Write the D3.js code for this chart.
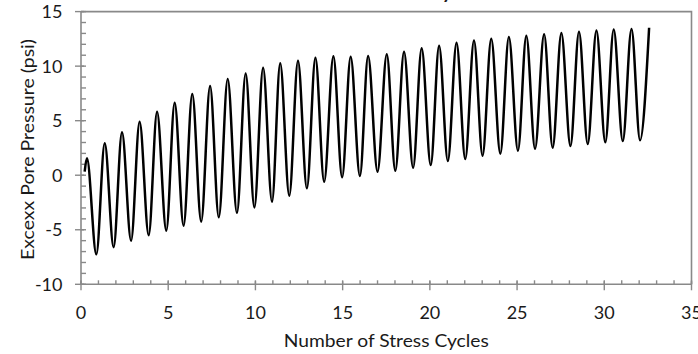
<!DOCTYPE html>
<html>
<head>
<meta charset="utf-8">
<script src="https://cdn.jsdelivr.net/npm/d3@7"></script>
<style>
  html, body { margin: 0; padding: 0; background: #fff; }
  svg { display: block; }
  text { font-family: Lato, "Open Sans", sans-serif; fill: #1a1a1a; }
</style>
</head>
<body>
<svg id="chart" width="698" height="354"></svg>
<script>
// Data (successive peaks and troughs of the record)
const cycles = [0.21, 0.34, 0.88, 1.36, 1.87, 2.35, 2.87, 3.36, 3.88, 4.36, 4.89, 5.37, 5.88, 6.38, 6.89, 7.40, 7.90, 8.41, 8.94, 9.44, 9.94, 10.44, 10.95, 11.42, 11.94, 12.44, 12.95, 13.44, 13.94, 14.47, 14.97, 15.46, 15.99, 16.46, 17.00, 17.53, 18.02, 18.52, 19.04, 19.53, 20.05, 20.53, 21.03, 21.53, 22.03, 22.53, 23.02, 23.52, 24.04, 24.53, 25.05, 25.53, 26.03, 26.55, 27.04, 27.54, 28.06, 28.55, 29.05, 29.55, 30.06, 30.54, 31.06, 31.56, 32.05, 32.57];
const porePressure = [0.32, 1.55, -7.25, 2.92, -6.6, 3.93, -6.0, 4.9, -5.5, 5.82, -5.08, 6.65, -4.63, 7.44, -4.26, 8.17, -3.86, 8.82, -3.45, 9.33, -2.95, 9.86, -2.43, 10.26, -1.88, 10.5, -1.2, 10.77, -0.6, 10.9, -0.19, 10.86, -0.07, 10.93, 0.32, 11.08, 0.41, 11.32, 0.69, 11.63, 0.93, 11.87, 1.3, 12.15, 1.48, 12.36, 1.79, 12.51, 1.97, 12.67, 2.25, 12.79, 2.43, 12.92, 2.52, 13.03, 2.68, 13.16, 2.86, 13.26, 3.02, 13.37, 3.13, 13.4, 3.2, 13.52];
const xTicks = [0, 5, 10, 15, 20, 25, 30, 35];
const yTicks = [-10, -5, 0, 5, 10, 15];
const xMinorTicks = d3.range(0, 36, 1);
const yMinorTicks = d3.range(-10, 16, 1);
const xTitle = "Number of Stress Cycles";
const yTitle = "Excexx Pore Pressure (psi)";
const chartTitle = "Pore Pressure History";

const svg = d3.select("#chart");
const L = 81, R = 691.5, T = 11.6, B = 284.3;
const x = d3.scaleLinear().domain([0, 35]).range([L, R]);
const y = d3.scaleLinear().domain([-10, 15]).range([B, T]);
const axisColor = "#898989";

// title (mostly above the visible area, as in the reference)
svg.append("text").attr("x", 452).attr("y", -0.8).attr("text-anchor", "end")
  .style("font-size", "19px").style("font-weight", "bold").text(chartTitle);

// plot-area border (top/right)
svg.append("path")
  .attr("d", `M${L},${T}H${R}V${B}`)
  .attr("fill", "none").attr("stroke", axisColor).attr("stroke-width", 1.6);

// x axis
const gx = svg.append("g").attr("transform", `translate(0,${B})`);
gx.selectAll("line.minor").data(xMinorTicks).join("line")
  .attr("x1", d => x(d)).attr("x2", d => x(d)).attr("y1", 0).attr("y2", -4)
  .attr("stroke", axisColor).attr("stroke-width", 1.4);
gx.selectAll("line.major").data(xTicks).join("line")
  .attr("x1", d => x(d)).attr("x2", d => x(d)).attr("y1", -3).attr("y2", 6)
  .attr("stroke", axisColor).attr("stroke-width", 1.4);
gx.append("line").attr("x1", L - 0.7).attr("x2", R).attr("y1", 0).attr("y2", 0)
  .attr("stroke", axisColor).attr("stroke-width", 1.6);
gx.selectAll("text").data(xTicks).join("text")
  .attr("x", d => x(d)).attr("y", 34.5).attr("text-anchor", "middle")
  .style("font-size", "18px").text(d => d);

// y axis
const gy = svg.append("g").attr("transform", `translate(${L},0)`);
gy.selectAll("line.minor").data(yMinorTicks).join("line")
  .attr("x1", 0).attr("x2", 5).attr("y1", d => y(d)).attr("y2", d => y(d))
  .attr("stroke", axisColor).attr("stroke-width", 1.4);
gy.selectAll("line.major").data(yTicks).join("line")
  .attr("x1", -6).attr("x2", 3).attr("y1", d => y(d)).attr("y2", d => y(d))
  .attr("stroke", axisColor).attr("stroke-width", 1.4);
gy.append("line").attr("x1", 0).attr("x2", 0).attr("y1", T).attr("y2", B + 0.7)
  .attr("stroke", axisColor).attr("stroke-width", 1.6);
gy.selectAll("text").data(yTicks).join("text")
  .attr("x", -18.5).attr("y", d => y(d) + 6.5).attr("text-anchor", "end")
  .style("font-size", "18px").text(d => d);

// axis titles
svg.append("text").attr("x", (L + R) / 2).attr("y", 346.5).attr("text-anchor", "middle")
  .style("font-size", "18px").attr("textLength", 205).attr("lengthAdjust", "spacingAndGlyphs")
  .text(xTitle);
svg.append("text").attr("transform", "translate(33.5,149.5) rotate(-90)")
  .attr("text-anchor", "middle").style("font-size", "18px")
  .attr("textLength", 221).attr("lengthAdjust", "spacingAndGlyphs")
  .text(yTitle);

// line
const pts = cycles.map((c, i) => [c, porePressure[i]]);
svg.append("path").datum(pts)
  .attr("fill", "none").attr("stroke", "#000").attr("stroke-width", 2.5)
  .attr("stroke-linejoin", "round")
  .attr("d", d3.line().x(d => x(d[0])).y(d => y(d[1])).curve(d3.curveMonotoneX));
</script>
</body>
</html>
